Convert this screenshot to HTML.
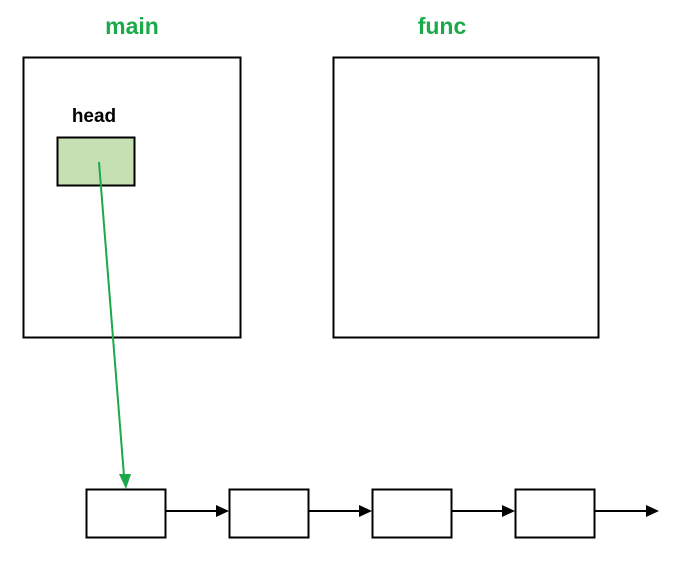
<!DOCTYPE html>
<html><head><meta charset="utf-8"><style>html,body{margin:0;padding:0;background:#fff}</style></head>
<body>
<svg width="677" height="563" viewBox="0 0 677 563" xmlns="http://www.w3.org/2000/svg">
<rect width="677" height="563" fill="#fff"/>
<text x="132" y="34" font-family="Liberation Sans, sans-serif" font-weight="bold" font-size="23" fill="#1aaa4a" text-anchor="middle">main</text>
<text x="442" y="34" font-family="Liberation Sans, sans-serif" font-weight="bold" font-size="23" fill="#1aaa4a" text-anchor="middle">func</text>
<rect x="23.5" y="57.5" width="217" height="280" fill="none" stroke="#000" stroke-width="2"/>
<rect x="333.5" y="57.5" width="265" height="280" fill="none" stroke="#000" stroke-width="2"/>
<text x="94" y="122" font-family="Liberation Sans, sans-serif" font-weight="bold" font-size="19" fill="#000" text-anchor="middle">head</text>
<rect x="57.5" y="137.5" width="77" height="48" fill="#c6e0b4" stroke="#000" stroke-width="2"/>
<line x1="99" y1="162" x2="124" y2="476" stroke="#1aaa4a" stroke-width="2"/>
<polygon points="119,474 131,474 126,489" fill="#1aaa4a"/>
<g fill="none" stroke="#000" stroke-width="2">
<rect x="86.5" y="489.5" width="79" height="48"/>
<rect x="229.5" y="489.5" width="79" height="48"/>
<rect x="372.5" y="489.5" width="79" height="48"/>
<rect x="515.5" y="489.5" width="79" height="48"/>
<line x1="166" y1="511" x2="218" y2="511"/>
<line x1="309" y1="511" x2="361" y2="511"/>
<line x1="452" y1="511" x2="504" y2="511"/>
<line x1="595" y1="511" x2="647" y2="511"/>
</g>
<g fill="#000">
<polygon points="216,505 229,511 216,517"/>
<polygon points="359,505 372,511 359,517"/>
<polygon points="502,505 515,511 502,517"/>
<polygon points="646,505 659,511 646,517"/>
</g>
</svg>
</body></html>
